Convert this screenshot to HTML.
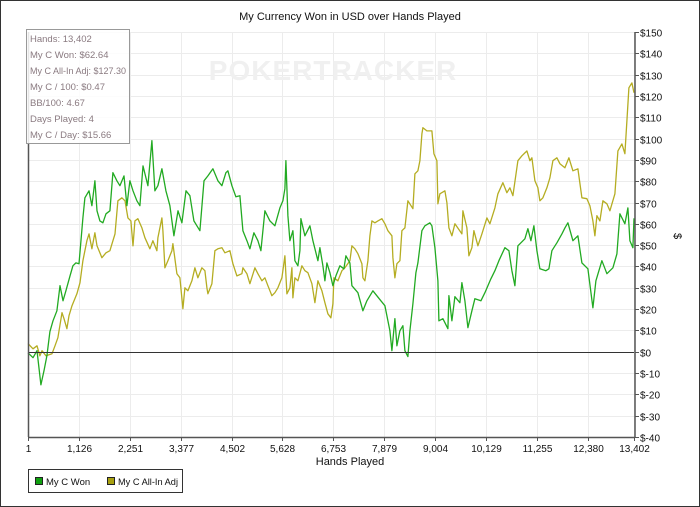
<!DOCTYPE html>
<html><head><meta charset="utf-8"><style>
html,body{margin:0;padding:0;background:#fff;}
svg{display:block;font-family:"Liberation Sans",sans-serif;}
</style></head><body>
<svg id="chart" width="700" height="507" viewBox="0 0 700 507">
<rect x="0.5" y="0.5" width="699" height="506" fill="#fff" stroke="#333"/>
<text x="350" y="20" font-size="11" text-anchor="middle" fill="#111">My Currency Won in USD over Hands Played</text>
<g id="grid"></g>
<text x="333" y="80" font-size="28" font-weight="bold" text-anchor="middle" fill="#f0f0f0" letter-spacing="1">POKERTRACKER</text>
<g id="series"></g>
<g id="axes"></g>
<text x="350" y="465" font-size="11" text-anchor="middle" fill="#111">Hands Played</text>
<text x="674" y="236" font-size="11" text-anchor="middle" fill="#111" transform="rotate(90 674 236)">$</text>
<g>
<rect x="26.5" y="29.5" width="103" height="114" fill="#fff" fill-opacity="0.85" stroke="#999"/>
<g font-size="9.5" fill="#8a7a80">
<text x="30" y="42">Hands: 13,402</text>
<text x="30" y="58">My C Won: $62.64</text>
<text x="30" y="74" textLength="96" lengthAdjust="spacingAndGlyphs">My C All-In Adj: $127.30</text>
<text x="30" y="90">My C / 100: $0.47</text>
<text x="30" y="106">BB/100: 4.67</text>
<text x="30" y="122">Days Played: 4</text>
<text x="30" y="138">My C / Day: $15.66</text>
</g></g>
<g>
<rect x="28.5" y="469.5" width="154" height="23" fill="#fff" stroke="#333"/>
<rect x="35.5" y="477.5" width="7" height="7" fill="#10a010" stroke="#222"/>
<text x="46" y="485" font-size="9.5" fill="#111">My C Won</text>
<rect x="107.5" y="477.5" width="7" height="7" fill="#a8a010" stroke="#222"/>
<text x="118" y="485" font-size="9.5" fill="#111" textLength="60" lengthAdjust="spacingAndGlyphs">My C All-In Adj</text>
</g>
</svg>
<script>
const xTickHands = [1,1126,2251,3377,4502,5628,6753,7879,9004,10129,11255,12380,13402];
const yTickValues = [-40,-30,-20,-10,0,10,20,30,40,50,60,70,80,90,100,110,120,130,140,150];
const wonHands = [0,111,199,287,354,420,486,553,641,708,774,840,929,995,1061,1128,1216,1260,1349,1415,1481,1526,1592,1658,1725,1813,1879,1968,2034,2123,2189,2255,2322,2410,2476,2543,2653,2742,2808,2874,2963,3051,3140,3228,3317,3405,3494,3582,3670,3737,3803,3892,3980,4090,4201,4289,4378,4422,4510,4599,4687,4754,4842,4908,4997,5085,5152,5240,5351,5461,5572,5638,5682,5704,5749,5793,5859,5903,5970,6014,6036,6125,6235,6302,6412,6456,6523,6567,6611,6678,6744,6810,6899,6987,7032,7120,7164,7297,7407,7496,7629,7805,7894,7960,8004,8049,8115,8159,8225,8292,8336,8402,8447,8513,8579,8623,8712,8778,8889,8933,9000,9065,9087,9176,9286,9309,9375,9441,9552,9596,9663,9729,9817,9884,10016,10105,10237,10326,10414,10547,10635,10701,10768,10834,10989,11055,11122,11188,11254,11321,11453,11520,11586,11697,11807,11874,11940,12050,12161,12249,12382,12493,12559,12692,12802,12935,13023,13090,13200,13267,13311,13378,13402];
const wonValues = [-0.5,-2.8,0.5,-15.5,-8.9,-1.9,9.4,14.5,19.2,31.0,23.9,28.6,35.6,40.3,41.7,41.3,62.8,72.2,75.5,68.5,80.2,66.1,61.4,60.5,64.7,66.1,84.0,80.2,77.9,82.5,68.5,80.2,75.5,70.8,68.5,87.2,77.9,99.0,75.5,77.9,85.8,75.5,68.5,54.4,66.1,60.5,75.5,73.2,61.4,59.1,56.8,80.2,82.5,85.8,80.2,77.9,84.0,84.9,77.9,72.7,73.2,56.8,52.1,48.3,55.8,52.1,47.4,66.1,61.4,59.1,67.5,70.8,76.5,89.6,63.8,52.1,56.8,42.7,40.3,47.4,62.4,54.4,59.1,52.1,42.7,48.8,40.3,33.3,41.7,37.1,31.0,35.6,40.3,38.9,45.0,41.7,31.0,27.7,19.2,23.9,28.6,23.9,21.6,14.5,9.8,0.5,15.5,2.8,9.8,12.2,0.5,-2.3,9.8,22.5,37.1,41.7,56.8,59.1,60.5,59.1,48.8,33.3,14.5,15.5,10.8,26.3,14.5,25.8,23.0,32.4,23.9,11.3,19.2,24.9,23.9,27.7,34.2,38.0,42.7,48.8,47.4,38.0,31.0,49.7,53.0,57.7,52.1,59.1,47.4,38.9,38.0,38.9,47.4,51.1,55.3,58.1,60.5,52.1,54.4,41.7,38.9,20.6,33.3,42.7,36.6,39.4,45.9,64.7,60.0,67.5,52.1,48.8,62.6];
const adjHands = [0,111,199,265,310,398,531,597,663,752,796,862,907,973,1083,1150,1216,1304,1349,1415,1481,1526,1636,1725,1813,1924,1990,2078,2145,2211,2277,2322,2366,2432,2520,2587,2697,2764,2852,2874,2963,2985,3029,3095,3184,3206,3294,3361,3427,3471,3538,3626,3692,3759,3847,3914,3958,3980,4068,4135,4201,4289,4356,4466,4533,4621,4732,4754,4842,4908,5019,5085,5174,5240,5306,5395,5461,5528,5616,5682,5727,5793,5837,5859,5903,5970,6058,6125,6191,6279,6346,6412,6501,6567,6633,6700,6744,6766,6854,6943,7009,7120,7164,7231,7297,7385,7407,7452,7518,7562,7606,7673,7739,7827,7894,7960,8049,8071,8115,8159,8225,8270,8336,8402,8513,8557,8623,8668,8712,8734,8823,8933,8977,9043,9065,9110,9220,9264,9309,9375,9441,9596,9618,9707,9751,9817,9861,9950,10038,10149,10215,10326,10392,10503,10591,10657,10724,10834,10923,10989,11033,11099,11144,11210,11276,11321,11387,11475,11542,11608,11697,11763,11874,11962,12050,12161,12249,12360,12426,12493,12537,12581,12647,12714,12802,12869,12979,13045,13134,13200,13245,13289,13356,13402];
const adjValues = [3.8,1.4,2.8,-1.9,0.5,-1.9,-0.9,2.8,6.6,18.3,15.5,10.8,16.9,21.6,27.2,32.4,42.7,52.1,55.3,48.3,55.8,49.7,44.1,46.4,47.4,55.3,70.8,72.2,70.8,62.8,61.4,49.7,61.4,62.4,58.1,53.5,48.3,52.1,47.4,53.5,62.8,56.8,39.4,42.7,47.4,50.7,36.6,34.7,20.2,30.0,28.6,33.3,39.4,34.7,39.4,38.0,30.0,27.2,31.9,47.4,48.3,48.8,46.4,47.4,41.3,35.6,36.6,39.4,36.6,31.9,39.4,36.6,33.3,34.7,31.0,26.3,27.7,30.0,34.7,45.0,27.2,30.0,39.4,25.3,34.7,33.3,40.3,38.0,37.1,31.9,23.0,33.3,28.6,23.0,17.8,15.9,22.5,34.7,33.3,38.0,39.4,42.7,49.7,48.3,46.0,41.3,34.7,33.3,42.7,54.4,61.4,60.5,61.4,62.4,60.0,56.8,54.4,44.1,34.7,41.3,42.7,56.8,58.1,70.8,67.1,83.5,84.9,89.6,102.2,105.1,103.6,103.6,92.9,89.6,69.4,74.1,75.5,69.9,58.1,54.4,60.0,55.3,66.1,58.1,45.0,48.8,56.8,49.7,55.3,62.8,60.0,67.5,74.1,79.3,74.6,76.9,73.2,89.6,91.9,93.3,94.2,89.6,91.0,80.2,76.9,70.8,72.2,76.9,81.6,89.6,91.0,88.2,86.3,91.0,84.9,85.8,72.2,71.8,68.5,61.4,54.4,63.8,61.4,70.8,69.4,66.1,74.1,94.2,97.5,92.9,108.3,123.8,126.1,121.5];

const NS = "http://www.w3.org/2000/svg";
const PL = 28, PR = 634, PT = 32, PB = 437;
const xMin = 1, xMax = 13402, yMin = -40, yMax = 150;
function xs(h){ return PL + (h - xMin) / (xMax - xMin) * (PR - PL); }
function ys(v){ return PB - (v - yMin) / (yMax - yMin) * (PB - PT); }
function mk(tag, attrs, parent){ const e = document.createElementNS(NS, tag); for (const k in attrs) e.setAttribute(k, attrs[k]); parent.appendChild(e); return e; }
const grid = document.getElementById('grid');
const axes = document.getElementById('axes');
const series = document.getElementById('series');
function fmtMoney(v){ return v < 0 ? '$-' + Math.abs(v) : '$' + v; }
yTickValues.forEach(v => {
  const y = Math.round(ys(v)) + 0.5;
  const g = mk('line', {x1: PL, x2: PR, y1: y, y2: y, stroke: '#ececec', 'stroke-width': 1}, grid);
  
  
  const t = mk('line', {x1: PR + 1, x2: PR + 5, y1: y, y2: y, stroke: '#555'}, axes);
  
  
  const l = mk('text', {x: PR + 6, y: y + 4, 'font-size': 10, fill: '#111'}, axes);
  l.textContent = fmtMoney(v);
  
  
});
xTickHands.forEach(h => {
  const x = Math.round(xs(h)) + 0.5;
  const g = mk('line', {x1: x, x2: x, y1: PT, y2: PB, stroke: '#ececec', 'stroke-width': 1}, grid);
  
  
  const t = mk('line', {x1: x, x2: x, y1: PB, y2: PB + 4, stroke: '#555'}, axes);
  
  
  const l = mk('text', {x: x, y: PB + 15, 'font-size': 10, fill: '#111', 'text-anchor': 'middle'}, axes);
  l.textContent = h.toLocaleString('en-US');
  
  
});
const z = mk('line', {x1: PL, x2: PR, y1: Math.round(ys(0)) + 0.5, y2: Math.round(ys(0)) + 0.5, stroke: '#333', 'stroke-width': 1}, axes);


const ax1 = mk('line', {x1: PL + 0.5, x2: PL + 0.5, y1: PT, y2: PB, stroke: '#555', 'stroke-width': 1.5}, axes);


const ax2 = mk('line', {x1: PR + 1, x2: PR + 1, y1: PT, y2: PB, stroke: '#555', 'stroke-width': 1.5}, axes);


const ax3 = mk('line', {x1: PL, x2: PR + 1, y1: PB + 0.5, y2: PB + 0.5, stroke: '#555', 'stroke-width': 1.5}, axes);


function pts(hs, vs){ return hs.map((h, i) => xs(h).toFixed(1) + ',' + ys(vs[i]).toFixed(1)).join(' '); }
const pa = mk('polyline', {points: pts(adjHands, adjValues), fill: 'none', stroke: '#b5ad22', 'stroke-width': 1.3, 'stroke-linejoin': 'round'}, series);


const pw = mk('polyline', {points: pts(wonHands, wonValues), fill: 'none', stroke: '#22aa22', 'stroke-width': 1.3, 'stroke-linejoin': 'round'}, series);


</script>
</body></html>
